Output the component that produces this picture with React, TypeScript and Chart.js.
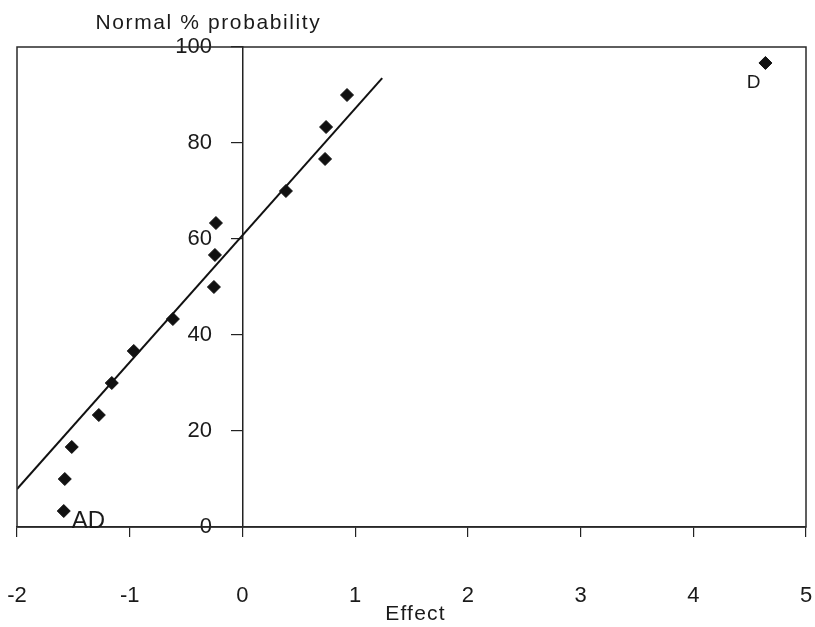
import React, { useEffect, useRef } from "react";
import { Chart, registerables } from "chart.js";

Chart.register(...registerables);

// ---- data ----
const effects = [-1.585, -1.576, -1.514, -1.274, -1.159, -0.964, -0.617, -0.253, -0.244, -0.235, 0.386, 0.733, 0.742, 0.928, 4.64];
const probabilities = [3.33, 10, 16.67, 23.33, 30, 36.67, 43.33, 50, 56.67, 63.33, 70, 76.67, 83.33, 90, 96.67];
const pointLabels = ["AD", "", "", "", "", "", "", "", "", "", "", "", "", "", "D"];
const fitLineX = [-2, 1.24];
const fitLineY = [7.9, 93.5];
const xTickValues = [-2, -1, 0, 1, 2, 3, 4, 5];
const yTickValues = [0, 20, 40, 60, 80, 100];
const yAxisTitle = "Normal % probability";
const xAxisTitle = "Effect";

const FONT = '"Liberation Sans", Arial, Helvetica, sans-serif';
const INK = "#1a1a1a";
// gap between the y tick labels and the axis line drawn at x = 0
const Y_LABEL_GAP = "     ";

const decorPlugin = {
  id: "decor",
  afterDatasetsDraw(chart: any) {
    const { ctx, chartArea: a } = chart;
    ctx.save();
    // frame
    ctx.strokeStyle = "#2a2a2a";
    ctx.lineWidth = 1.5;
    ctx.strokeRect(a.left, a.top, a.right - a.left, a.bottom - a.top);

    // point labels
    const meta = chart.getDatasetMeta(1);
    ctx.fillStyle = INK;
    ctx.textBaseline = "alphabetic";
    meta.data.forEach((el: any, i: number) => {
      const txt = pointLabels[i];
      if (!txt) return;
      const right = el.x > (a.left + a.right) / 2;
      if (right) {
        ctx.font = `19px ${FONT}`;
        ctx.textAlign = "right";
        ctx.fillText(txt, el.x - 5, el.y + 25);
      } else {
        ctx.font = `24px ${FONT}`;
        ctx.textAlign = "left";
        ctx.fillText(txt, el.x + 8, el.y + 17);
      }
    });

    // axis titles
    const yAxisPx = chart.scales.x.getPixelForValue(0);
    ctx.font = `21px ${FONT}`;
    ctx.textAlign = "center";
    (ctx as any).letterSpacing = "1.6px";
    ctx.fillText(yAxisTitle, yAxisPx - 34, a.top - 18);
    (ctx as any).letterSpacing = "1.2px";
    ctx.fillText(xAxisTitle, (a.left + a.right) / 2 + 4, a.bottom + 93);
    (ctx as any).letterSpacing = "0px";
    ctx.restore();
  },
};

export default function App() {
  const ref = useRef<HTMLCanvasElement | null>(null);

  useEffect(() => {
    if (!ref.current) return;
    Chart.defaults.font.family = FONT;
    Chart.defaults.color = INK;
    const chart = new Chart(ref.current, {
      type: "scatter",
      data: {
        datasets: [
          {
            type: "line",
            label: "fit",
            data: fitLineX.map((x, i) => ({ x, y: fitLineY[i] })),
            borderColor: "#111",
            borderWidth: 2,
            pointRadius: 0,
            showLine: true,
            fill: false,
          } as any,
          {
            label: "effects",
            data: effects.map((x, i) => ({ x, y: probabilities[i] })),
            pointStyle: "rectRot",
            pointRadius: 6.5,
            backgroundColor: "#111",
            borderColor: "#111",
            borderWidth: 1,
          },
        ],
      },
      options: {
        responsive: false,
        animation: false,
        layout: { padding: { left: 17, right: 9, top: 47, bottom: 0 } },
        plugins: {
          legend: { display: false },
          tooltip: { enabled: false },
          title: { display: false },
        },
        scales: {
          x: {
            type: "linear",
            position: "bottom",
            min: -2,
            max: 5,
            afterBuildTicks: (s: any) => {
              s.ticks = xTickValues.map((v) => ({ value: v }));
            },
            afterFit: (s: any) => {
              s.height = 100;
            },
            grid: {
              display: true,
              drawOnChartArea: false,
              drawTicks: true,
              tickLength: 10,
              color: "#222",
              lineWidth: 1.2,
            },
            border: { display: true, color: "#222", width: 1.5 },
            ticks: {
              font: { size: 22, lineHeight: 5.18 },
              color: INK,
              padding: 2,
              maxRotation: 0,
            },
          },
          y: {
            type: "linear",
            position: { x: 0 } as any,
            min: 0,
            max: 100,
            afterBuildTicks: (s: any) => {
              s.ticks = yTickValues.map((v) => ({ value: v }));
            },
            grid: {
              display: true,
              drawOnChartArea: false,
              drawTicks: true,
              tickLength: 11,
              color: "#222",
              lineWidth: 1.2,
            },
            border: { display: true, color: "#222", width: 1.5 },
            ticks: {
              font: { size: 22 },
              color: INK,
              padding: 0,
              callback: (v: any) => `${v}${Y_LABEL_GAP}`,
            },
          },
        },
      },
      plugins: [decorPlugin],
    });
    return () => chart.destroy();
  }, []);

  return (
    <div style={{ position: "absolute", left: 0, top: 0, width: 815, height: 627, background: "#fff" }}>
      <canvas ref={ref} width={815} height={627} />
    </div>
  );
}
